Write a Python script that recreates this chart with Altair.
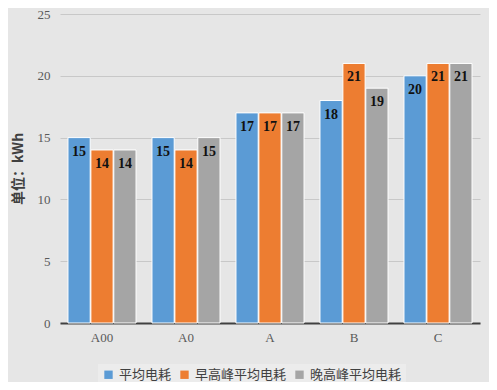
import altair as alt
import pandas as pd

categories = ["A00", "A0", "A", "B", "C"]
series_names = ["平均电耗", "早高峰平均电耗", "晚高峰平均电耗"]
avg = [15, 15, 17, 18, 20]
morning = [14, 14, 17, 21, 21]
evening = [14, 15, 17, 19, 21]
colors = ["#5b9bd5", "#ed7d31", "#a5a5a5"]

rows = []
for i, c in enumerate(categories):
    for s, vals in zip(series_names, [avg, morning, evening]):
        rows.append({"cat": c, "series": s, "value": vals[i]})
df = pd.DataFrame(rows)

x = alt.X("cat:N", sort=categories, title=None,
          scale=alt.Scale(paddingInner=0.19, paddingOuter=0.095),
          axis=alt.Axis(labelAngle=0, labelFont="Liberation Serif", labelFontSize=13,
                        labelColor="#595959", domainColor="#404040", domainWidth=2,
                        ticks=False, labelPadding=8))
xo = alt.XOffset("series:N", sort=series_names, scale=alt.Scale(paddingInner=0.03))
y = alt.Y("value:Q", title="单位：kWh",
          scale=alt.Scale(domain=[0, 25]),
          axis=alt.Axis(values=[0, 5, 10, 15, 20, 25], labelFont="Liberation Serif",
                        labelFontSize=13, labelColor="#595959", gridColor="#c8c8c8",
                        domain=False, ticks=False, labelPadding=10,
                        titleFont="Noto Sans CJK SC", titleFontSize=14, titleFontWeight="bold",
                        titleColor="#404040", titlePadding=12))
color = alt.Color("series:N", sort=series_names,
                  scale=alt.Scale(domain=series_names, range=colors),
                  legend=alt.Legend(orient="none", direction="horizontal", title=None,
                                    legendX=38, legendY=350, symbolType="square", symbolSize=70,
                                    labelFont="Noto Sans CJK SC", labelFontSize=13,
                                    labelColor="#404040", columnPadding=6, symbolStrokeWidth=0,
                                    fillColor="#ececec", padding=4, labelOffset=4))

base = alt.Chart(df).encode(x=x, xOffset=xo, y=y)
bars = base.mark_bar(stroke="white", strokeWidth=1).encode(color=color)
labels = base.mark_text(baseline="top", dy=7, font="Liberation Serif", fontSize=14,
                        fontWeight="bold", color="#111111").encode(text="value:Q")

chart = (bars + labels).properties(
    width=420, height=309,
    autosize=alt.AutoSizeParams(type="none"),
    padding={"left": 52, "top": 6, "right": 9, "bottom": 59},
    background="#e6e6e6",
).configure_view(stroke=None)

chart.save("out.html", embed_options={"renderer": "svg", "actions": False})
